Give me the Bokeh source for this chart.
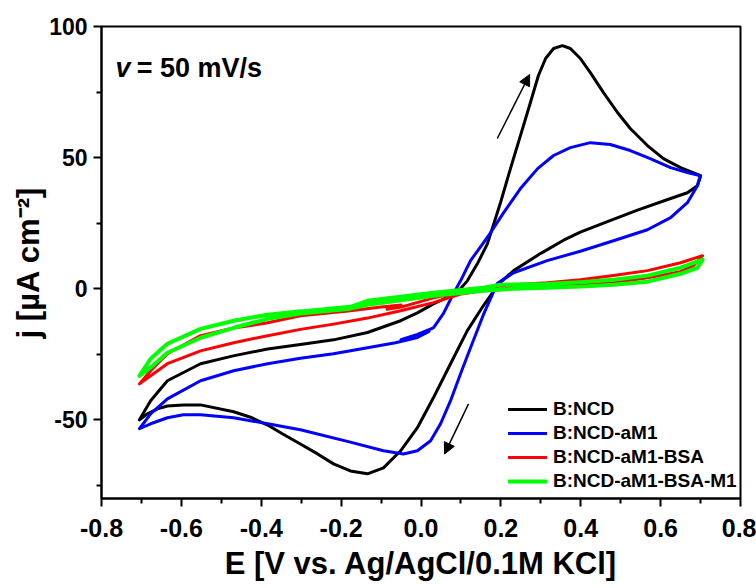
from bokeh.plotting import figure
from bokeh.models import FixedTicker, Legend, LegendItem, Arrow, NormalHead, Label, PrintfTickFormatter
from bokeh.embed import file_html
from bokeh.resources import INLINE

# ---------------- data ----------------
SERIES = ["B:NCD", "B:NCD-aM1", "B:NCD-aM1-BSA", "B:NCD-aM1-BSA-M1"]
COLORS = ["#000000", "#0000FF", "#FF0000", "#00FF00"]

E_bncd = [-0.705, -0.677, -0.635, -0.552, -0.470, -0.384, -0.302, -0.219, -0.134, -0.051, -0.009, 0.031, 0.074,
          0.099, 0.116, 0.141, 0.166, 0.199, 0.224, 0.249, 0.274, 0.294, 0.312, 0.332, 0.354, 0.374, 0.399,
          0.424, 0.457, 0.492, 0.524, 0.567, 0.607, 0.650, 0.700,
          0.692, 0.667, 0.625, 0.542, 0.457, 0.399, 0.357, 0.299, 0.232, 0.195, 0.156, 0.116, 0.074, 0.031,
          -0.009, -0.051, -0.094, -0.134, -0.177, -0.219, -0.259, -0.302, -0.344, -0.384, -0.427, -0.469,
          -0.552, -0.595, -0.635, -0.660, -0.685, -0.705]
j_bncd = [-50.0, -42.7, -35.1, -28.6, -25.6, -23.0, -21.3, -19.5, -16.7, -12.2, -9.2, -5.8, -2.7,
          0.0, 3.0, 9.5, 17.0, 32.8, 45.8, 58.4, 71.0, 81.3, 87.8, 91.6, 92.7, 91.6, 87.8,
          82.4, 74.8, 67.2, 61.1, 54.6, 49.6, 46.2, 43.1,
          39.3, 36.6, 34.4, 30.0, 25.0, 21.6, 18.5, 13.4, 6.9, 1.9, -6.5, -16.0, -28.6, -41.6,
          -53.0, -61.8, -68.3, -70.6, -69.5, -66.8, -63.0, -59.2, -55.6, -52.0, -49.0, -46.9,
          -44.3, -44.3, -44.7, -45.8, -47.7, -50.0]

E_am1 = [-0.050, -0.009, 0.031, 0.056, 0.081, 0.099, 0.124, 0.149, 0.169, 0.207, 0.249, 0.292, 0.332, 0.374,
         0.424, 0.474, 0.524, 0.574, 0.625, 0.667, 0.700,
         0.692, 0.667, 0.625, 0.567, 0.482, 0.399, 0.316, 0.232, 0.191, 0.156, 0.124, 0.099, 0.074, 0.049,
         0.024, -0.009, -0.044, -0.094, -0.177, -0.302, -0.384, -0.469, -0.552, -0.595, -0.635, -0.677, -0.705,
         -0.677, -0.635, -0.552, -0.469, -0.384, -0.302, -0.219, -0.134, -0.064, -0.009, 0.020]
j_am1 = [-19.4, -17.4, -14.9, -9.5, -1.9, 3.0, 10.7, 16.0, 20.2, 29.0, 38.2, 45.8, 50.8, 53.8,
         55.7, 55.0, 52.7, 49.6, 46.2, 44.3, 43.1,
         39.3, 32.8, 27.1, 22.5, 18.3, 14.3, 10.7, 6.1, 2.0, -10.0, -22.5, -32.4, -42.7, -51.5,
         -58.0, -61.8, -63.0, -61.8, -58.5, -53.8, -51.5, -49.2, -48.1, -48.1, -49.2, -51.5, -53.4,
         -47.7, -42.0, -35.1, -31.3, -28.6, -26.5, -24.8, -22.5, -20.6, -18.6, -16.3]

E_bsa = [-0.085, -0.050, 0.031, 0.116, 0.199, 0.232, 0.316, 0.399, 0.482, 0.567, 0.650, 0.705,
         0.682, 0.650, 0.567, 0.482, 0.399, 0.316, 0.232, 0.156, 0.099, 0.031, -0.051, -0.134, -0.219,
         -0.302, -0.384, -0.469, -0.552, -0.635, -0.677, -0.705,
         -0.677, -0.635, -0.552, -0.469, -0.384, -0.302, -0.177, -0.100, -0.050]
j_bsa = [-7.8, -7.0, -3.5, -0.8, 1.1, 1.5, 2.3, 3.4, 5.0, 6.9, 9.9, 12.6,
         8.8, 6.5, 4.2, 2.3, 1.5, 0.8, 0.3, -0.8, -2.0, -5.3, -8.4, -11.2, -13.5,
         -15.5, -17.9, -20.6, -23.7, -28.6, -33.2, -36.3,
         -31.3, -24.8, -17.9, -15.0, -13.0, -10.3, -8.4, -7.0, -6.2]

E_m1 = [-0.384, -0.320, -0.177, -0.134, 0.031, 0.156, 0.199, 0.232, 0.316, 0.399, 0.482, 0.567, 0.650, 0.705,
        0.692, 0.650, 0.567, 0.482, 0.399, 0.316, 0.232, 0.156, 0.031, -0.134, -0.177, -0.302, -0.384,
        -0.469, -0.552, -0.635, -0.677, -0.705,
        -0.677, -0.635, -0.552, -0.469, -0.384, -0.302]
j_m1 = [-11.1, -9.0, -6.9, -4.6, -1.5, 0.4, 1.5, 1.6, 1.8, 2.5, 3.4, 5.0, 8.0, 11.1,
        8.0, 5.7, 2.7, 1.5, 0.8, 0.4, 0.0, -0.8, -2.7, -6.1, -7.6, -9.5, -11.5,
        -14.9, -18.7, -24.4, -30.0, -33.2,
        -26.7, -21.0, -15.3, -12.2, -9.9, -8.6]

X_TICKS = [-0.8, -0.6, -0.4, -0.2, 0.0, 0.2, 0.4, 0.6, 0.8]
X_MINOR = [-0.7, -0.5, -0.3, -0.1, 0.1, 0.3, 0.5, 0.7]
Y_TICKS = [-50, 0, 50, 100]
Y_MINOR = [-75, -25, 25, 75]

ARROW_X0 = [0.191, 0.119]
ARROW_Y0 = [57.3, -43.9]
ARROW_X1 = [0.272, 0.059]
ARROW_Y1 = [81.7, -63.0]

X_TITLE = "E [V vs. Ag/AgCl/0.1M KCl]"
Y_TITLE = "j [µA cm⁻²]"

FONT = "Liberation Sans"

p = figure(width=756, height=588, x_range=(-0.8, 0.8), y_range=(-80, 100),
           output_backend="svg", toolbar_location=None,
           min_border_left=101, min_border_right=16, min_border_top=26, min_border_bottom=90,
           background_fill_color="white", border_fill_color="white")
p.grid.visible = False
p.outline_line_color = "black"
p.outline_line_width = 2

xa = p.xaxis[0]
ya = p.yaxis[0]
xa.ticker = FixedTicker(ticks=X_TICKS, minor_ticks=X_MINOR)
ya.ticker = FixedTicker(ticks=Y_TICKS, minor_ticks=Y_MINOR)
xa.formatter = PrintfTickFormatter(format="%.1f")
ya.formatter = PrintfTickFormatter(format="%d")
for ax in (xa, ya):
    ax.axis_line_width = 2
    ax.axis_line_color = "black"
    ax.major_tick_line_width = 2
    ax.minor_tick_line_width = 2
    ax.major_tick_line_color = "black"
    ax.minor_tick_line_color = "black"
    ax.major_tick_in = 0
    ax.major_tick_out = 8
    ax.minor_tick_in = 0
    ax.minor_tick_out = 5
    ax.major_label_text_font = FONT
    ax.major_label_text_font_style = "bold"
    ax.major_label_text_color = "black"
    ax.axis_label_text_font = FONT
    ax.axis_label_text_font_style = "bold"
    ax.axis_label_text_color = "black"
    ax.axis_label_text_font_size = "31px"
xa.major_label_text_font_size = "25px"
ya.major_label_text_font_size = "23px"
xa.major_label_standoff = 12
ya.major_label_standoff = 6
xa.axis_label = X_TITLE
ya.axis_label = Y_TITLE
xa.axis_label_standoff = 6
ya.axis_label_standoff = 0

renderers = []
for E, j, c in zip([E_bncd, E_am1, E_bsa, E_m1], [j_bncd, j_am1, j_bsa, j_m1], COLORS):
    lw = 4 if c == "#00FF00" else 3
    r = p.line(E, j, line_color=c, line_width=lw, line_join="round", line_cap="round")
    renderers.append(r)

for x0, y0, x1, y1 in zip(ARROW_X0, ARROW_Y0, ARROW_X1, ARROW_Y1):
    p.add_layout(Arrow(x_start=x0, y_start=y0, x_end=x1, y_end=y1, line_width=1.5, line_color="black",
                       end=NormalHead(size=11, fill_color="black", line_color="black", line_width=1)))

p.add_layout(Label(x=-0.765, y=84, text="v", text_font=FONT, text_font_style="bold italic",
                   text_font_size="27px", text_color="black", text_baseline="alphabetic"))
p.add_layout(Label(x=-0.712, y=84, text="= 50 mV/s", text_font=FONT, text_font_style="bold",
                   text_font_size="27px", text_color="black", text_baseline="alphabetic"))

legend = Legend(items=[LegendItem(label=n, renderers=[r]) for n, r in zip(SERIES, renderers)],
                location=(407, 6))
legend.label_text_font = FONT
legend.label_text_font_style = "bold"
legend.label_text_font_size = "19px"
legend.label_text_color = "black"
legend.glyph_width = 39
legend.glyph_height = 20
legend.label_height = 20
legend.spacing = 2
legend.padding = 0
legend.margin = 0
legend.label_standoff = 6
legend.border_line_color = None
legend.background_fill_alpha = 0
p.add_layout(legend)

open("out.html", "w").write(file_html(p, INLINE))
